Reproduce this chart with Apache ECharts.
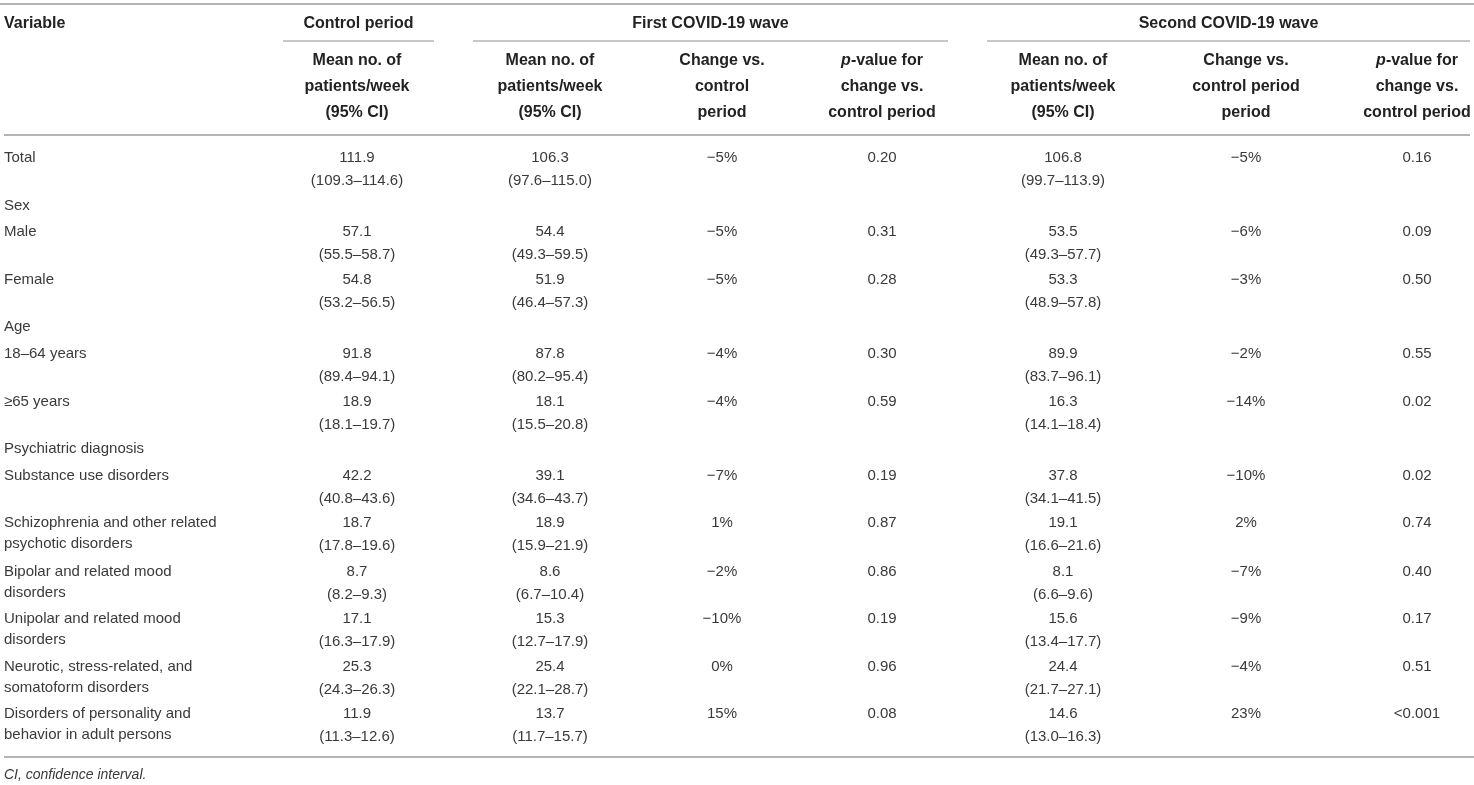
<!DOCTYPE html>
<html>
<head>
<meta charset="utf-8">
<script src="https://cdn.jsdelivr.net/npm/echarts@6/dist/echarts.min.js"></script>
<style>
  html, body { margin: 0; padding: 0; background: #fff; }
  #main { width: 1474px; height: 785px; }
</style>
</head>
<body>
<div id="main"></div>
<script>
// table content
const variables = ['Total', 'Sex', 'Male', 'Female', 'Age', '18–64 years', '≥65 years',
  'Psychiatric diagnosis', 'Substance use disorders',
  'Schizophrenia and other related\npsychotic disorders',
  'Bipolar and related mood\ndisorders',
  'Unipolar and related mood\ndisorders',
  'Neurotic, stress-related, and\nsomatoform disorders',
  'Disorders of personality and\nbehavior in adult persons'];

const controlMean = [111.9, null, 57.1, 54.8, null, 91.8, 18.9, null, 42.2, 18.7, 8.7, 17.1, 25.3, 11.9];
const controlLow  = [109.3, null, 55.5, 53.2, null, 89.4, 18.1, null, 40.8, 17.8, 8.2, 16.3, 24.3, 11.3];
const controlHigh = [114.6, null, 58.7, 56.5, null, 94.1, 19.7, null, 43.6, 19.6, 9.3, 17.9, 26.3, 12.6];

const wave1Mean   = [106.3, null, 54.4, 51.9, null, 87.8, 18.1, null, 39.1, 18.9, 8.6, 15.3, 25.4, 13.7];
const wave1Low    = [97.6, null, 49.3, 46.4, null, 80.2, 15.5, null, 34.6, 15.9, 6.7, 12.7, 22.1, 11.7];
const wave1High   = [115.0, null, 59.5, 57.3, null, 95.4, 20.8, null, 43.7, 21.9, 10.4, 17.9, 28.7, 15.7];
const wave1Change = [-5, null, -5, -5, null, -4, -4, null, -7, 1, -2, -10, 0, 15];
const wave1P      = ['0.20', null, '0.31', '0.28', null, '0.30', '0.59', null, '0.19', '0.87', '0.86', '0.19', '0.96', '0.08'];

const wave2Mean   = [106.8, null, 53.5, 53.3, null, 89.9, 16.3, null, 37.8, 19.1, 8.1, 15.6, 24.4, 14.6];
const wave2Low    = [99.7, null, 49.3, 48.9, null, 83.7, 14.1, null, 34.1, 16.6, 6.6, 13.4, 21.7, 13.0];
const wave2High   = [113.9, null, 57.7, 57.8, null, 96.1, 18.4, null, 41.5, 21.6, 9.6, 17.7, 27.1, 16.3];
const wave2Change = [-5, null, -6, -3, null, -2, -14, null, -10, 2, -7, -9, -4, 23];
const wave2P      = ['0.16', null, '0.09', '0.50', null, '0.55', '0.02', null, '0.02', '0.74', '0.40', '0.17', '0.51', '<0.001'];

const groupTitles = ['Control period', 'First COVID-19 wave', 'Second COVID-19 wave'];
const colHeaders = [
  ['Mean no. of', 'patients/week', '(95% CI)'],
  ['Mean no. of', 'patients/week', '(95% CI)'],
  ['Change vs.', 'control', 'period'],
  ['{i|p}-value for', 'change vs.', 'control period'],
  ['Mean no. of', 'patients/week', '(95% CI)'],
  ['Change vs.', 'control period', 'period'],
  ['{i|p}-value for', 'change vs.', 'control period']
];
const footnote = 'CI, confidence interval.';

// layout (pixels)
const W = 1474, H = 785;
const labelX = 4;
const colX = [357, 550, 722, 882, 1063, 1246, 1417];
const rowY = [158, 206, 232, 280, 327, 354, 402, 449, 476, 523, 572, 619, 667, 714];
const groupSpan = [[283, 434], [473, 948], [987, 1470]];
const headY = [61, 87, 113];
const FONT = '"Liberation Sans", Arial, Helvetica, sans-serif';
const TXT = '#3a3a3a';
const RULE = '#b4b4b4';

const fmt1 = v => v.toFixed(1);
const pct = v => (v < 0 ? '−' + Math.abs(v) : String(v)) + '%';
const mci = (m, lo, hi, r) => fmt1(m[r]) + '\n(' + fmt1(lo[r]) + '–' + fmt1(hi[r]) + ')';

function cellText(c, r) {
  if (c < 0) return variables[r];
  if (controlMean[r] == null) return '';
  switch (c) {
    case 0: return mci(controlMean, controlLow, controlHigh, r);
    case 1: return mci(wave1Mean, wave1Low, wave1High, r);
    case 2: return pct(wave1Change[r]);
    case 3: return wave1P[r];
    case 4: return mci(wave2Mean, wave2Low, wave2High, r);
    case 5: return pct(wave2Change[r]);
    case 6: return wave2P[r];
  }
  return '';
}

const cells = [];
variables.forEach((v, r) => {
  for (let c = -1; c < colX.length; c++) cells.push([c, r]);
});

const chart = echarts.init(document.getElementById('main'), null, { renderer: 'canvas' });

const graphic = [];
// rules
const hline = (x1, x2, y, w) => graphic.push({
  type: 'line', shape: { x1: x1, y1: y, x2: x2, y2: y },
  style: { stroke: RULE, lineWidth: w }, silent: true
});
hline(0, 1474, 4, 2);
groupSpan.forEach(s => hline(s[0], s[1], 41, 1.5));
hline(4, 1470, 135, 2);
hline(4, 1474, 757, 2);

// header texts
const headTxt = (x, y, text, align) => graphic.push({
  type: 'text', x: x, y: y,
  style: {
    text: text, fill: '#222', font: 'bold 16px ' + FONT,
    textAlign: align, textVerticalAlign: 'middle',
    rich: { i: { fontStyle: 'italic', fontWeight: 'bold', fontSize: 16, fontFamily: FONT, fill: '#222' } }
  }
});
headTxt(labelX, 24, 'Variable', 'left');
groupTitles.forEach((t, i) => headTxt((groupSpan[i][0] + groupSpan[i][1]) / 2, 24, t, 'center'));
colHeaders.forEach((lines, c) => lines.forEach((t, k) => headTxt(colX[c], headY[k], t, 'center')));

graphic.push({
  type: 'text', x: labelX, y: 775,
  style: { text: footnote, fill: TXT, font: 'italic 14px ' + FONT, textAlign: 'left', textVerticalAlign: 'middle' }
});

chart.setOption({
  animation: false,
  grid: { left: 0, right: 0, top: 0, bottom: 0 },
  xAxis: { type: 'value', min: 0, max: W, show: false },
  yAxis: { type: 'value', min: 0, max: H, inverse: true, show: false },
  graphic: graphic,
  series: [{
    type: 'custom',
    coordinateSystem: 'cartesian2d',
    data: cells,
    silent: true,
    renderItem: function (params, api) {
      const c = api.value(0), r = api.value(1);
      const text = cellText(c, r);
      const lh = c < 0 ? 21 : 23;
      const pt = api.coord([c < 0 ? labelX : colX[c], rowY[r]]);
      return {
        type: 'text',
        x: pt[0], y: pt[1] - lh / 2,
        style: {
          text: text, fill: TXT, font: '15px ' + FONT,
          textAlign: c < 0 ? 'left' : 'center', textVerticalAlign: 'top',
          lineHeight: lh
        }
      };
    }
  }]
});
</script>
</body>
</html>
